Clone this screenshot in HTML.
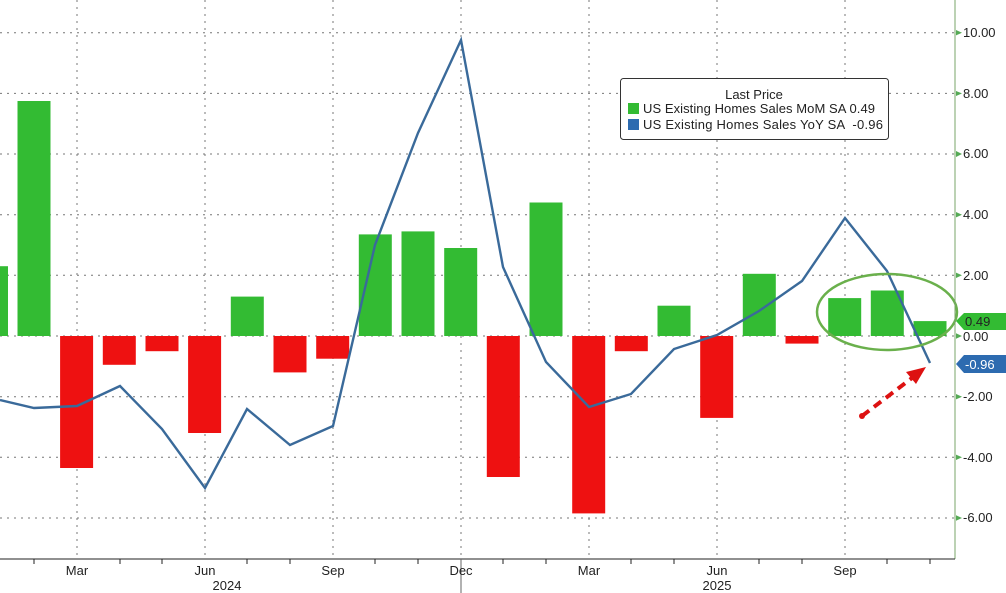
<!DOCTYPE html>
<html><head><meta charset="utf-8"><style>
body{margin:0;background:#fff;}
svg{display:block;font-family:"Liberation Sans",sans-serif;}
</style></head><body>
<svg width="1006" height="593" viewBox="0 0 1006 593">
<g stroke="#777" stroke-width="1" stroke-dasharray="2,5">
<line x1="0" y1="32.7" x2="955" y2="32.7"/><line x1="0" y1="93.4" x2="955" y2="93.4"/>
<line x1="0" y1="154" x2="955" y2="154"/><line x1="0" y1="214.7" x2="955" y2="214.7"/>
<line x1="0" y1="275.3" x2="955" y2="275.3"/><line x1="0" y1="336" x2="955" y2="336"/>
<line x1="0" y1="396.7" x2="955" y2="396.7"/><line x1="0" y1="457.3" x2="955" y2="457.3"/>
<line x1="0" y1="518" x2="955" y2="518"/>
<line x1="77" y1="0" x2="77" y2="559"/><line x1="205" y1="0" x2="205" y2="559"/>
<line x1="333" y1="0" x2="333" y2="559"/><line x1="461" y1="0" x2="461" y2="559"/>
<line x1="589" y1="0" x2="589" y2="559"/><line x1="717" y1="0" x2="717" y2="559"/>
<line x1="845" y1="0" x2="845" y2="559"/>
</g>
<g fill="#33bb33">
<rect x="0" y="266.2" width="8" height="69.8"/>
<rect x="17.5" y="101" width="33" height="235"/>
<rect x="230.8" y="296.6" width="33" height="39.4"/>
<rect x="358.8" y="234.4" width="33" height="101.6"/>
<rect x="401.5" y="231.4" width="33" height="104.6"/>
<rect x="444.2" y="248" width="33" height="88"/>
<rect x="529.5" y="202.5" width="33" height="133.5"/>
<rect x="657.5" y="305.7" width="33" height="30.3"/>
<rect x="742.8" y="273.8" width="33" height="62.2"/>
<rect x="828.2" y="298.1" width="33" height="37.9"/>
<rect x="870.8" y="290.5" width="33" height="45.5"/>
<rect x="913.5" y="321.1" width="33" height="14.9"/>
</g>
<g fill="#ee1111">
<rect x="60.1" y="336" width="33" height="132"/>
<rect x="102.8" y="336" width="33" height="28.8"/>
<rect x="145.5" y="336" width="33" height="15.2"/>
<rect x="188.1" y="336" width="33" height="97"/>
<rect x="273.5" y="336" width="33" height="36.4"/>
<rect x="316.2" y="336" width="33" height="22.7"/>
<rect x="486.8" y="336" width="33" height="141"/>
<rect x="572.2" y="336" width="33" height="177.4"/>
<rect x="614.8" y="336" width="33" height="15.2"/>
<rect x="700.2" y="336" width="33" height="81.9"/>
<rect x="785.5" y="336" width="33" height="7.6"/>
</g>
<polyline fill="none" stroke="#3a6a9a" stroke-width="2.4" points="0,400 34,408 77,406 120,386 162,429 205,488 247,409 290,445 333,426 375,245 418,133 461,40 503,267 546,362 589,407 631,394 674,349 717,335 759,311 802,281 845,218 887,271 930,363"/>
<ellipse cx="887" cy="312" rx="70" ry="38" fill="none" stroke="#6ab04c" stroke-width="2.5"/>
<line x1="862" y1="416" x2="912" y2="378" stroke="#dd1111" stroke-width="4" stroke-dasharray="9,6"/>
<circle cx="862" cy="416" r="3" fill="#dd1111"/>
<polygon points="926,367 906,372 916,384" fill="#dd1111"/>
<line x1="955" y1="0" x2="955" y2="559" stroke="#7aa56a" stroke-width="1"/>
<line x1="0" y1="559" x2="955" y2="559" stroke="#222" stroke-width="1"/>
<g stroke="#222"><line x1="34" y1="559" x2="34" y2="564"/><line x1="120" y1="559" x2="120" y2="564"/><line x1="162" y1="559" x2="162" y2="564"/><line x1="247" y1="559" x2="247" y2="564"/><line x1="290" y1="559" x2="290" y2="564"/><line x1="375" y1="559" x2="375" y2="564"/><line x1="418" y1="559" x2="418" y2="564"/><line x1="503" y1="559" x2="503" y2="564"/><line x1="546" y1="559" x2="546" y2="564"/><line x1="631" y1="559" x2="631" y2="564"/><line x1="674" y1="559" x2="674" y2="564"/><line x1="759" y1="559" x2="759" y2="564"/><line x1="802" y1="559" x2="802" y2="564"/><line x1="887" y1="559" x2="887" y2="564"/><line x1="930" y1="559" x2="930" y2="564"/></g>
<line x1="461" y1="559" x2="461" y2="593" stroke="#666"/>
<g font-size="13" fill="#222" text-anchor="middle">
<text x="77" y="575">Mar</text><text x="205" y="575">Jun</text><text x="333" y="575">Sep</text><text x="461" y="575">Dec</text>
<text x="589" y="575">Mar</text><text x="717" y="575">Jun</text><text x="845" y="575">Sep</text>
<text x="227" y="590">2024</text><text x="717" y="590">2025</text>
</g>
<g fill="#5a5"><polygon points="956,30 962,32.7 956,35.4"/><polygon points="956,91 962,93.4 956,96"/><polygon points="956,151 962,154 956,157"/><polygon points="956,212 962,214.7 956,217.4"/><polygon points="956,272.6 962,275.3 956,278"/><polygon points="956,333.3 962,336 956,338.7"/><polygon points="956,394 962,396.7 956,399.4"/><polygon points="956,454.6 962,457.3 956,460"/><polygon points="956,515.3 962,518 956,520.7"/></g>
<g font-size="13" fill="#222">
<text x="963" y="37">10.00</text><text x="963" y="98">8.00</text><text x="963" y="158">6.00</text>
<text x="963" y="219">4.00</text><text x="963" y="280">2.00</text><text x="963" y="341">0.00</text>
<text x="963" y="401">-2.00</text><text x="963" y="462">-4.00</text><text x="963" y="522">-6.00</text>
</g>
<polygon points="956,321 964,313 1006,313 1006,330 964,330" fill="#33bb33"/>
<text x="965" y="326" font-size="13" fill="#222">0.49</text>
<polygon points="956,364 964,355 1006,355 1006,373 964,373" fill="#2d6bb0"/>
<text x="965" y="369" font-size="13" fill="#fff">-0.96</text>
<rect x="620.5" y="78.5" width="268" height="61" rx="3" fill="#fff" stroke="#333"/>
<text x="754" y="99" font-size="13" fill="#222" text-anchor="middle">Last Price</text>
<rect x="628" y="103" width="11" height="11" fill="#33bb33"/>
<text x="643" y="113" font-size="13" fill="#222" textLength="232">US Existing Homes Sales MoM SA 0.49</text>
<rect x="628" y="119" width="11" height="11" fill="#2d6bb0"/>
<text x="643" y="129" font-size="13" fill="#222" textLength="240" xml:space="preserve">US Existing Homes Sales YoY SA  -0.96</text>
</svg>
</body></html>
